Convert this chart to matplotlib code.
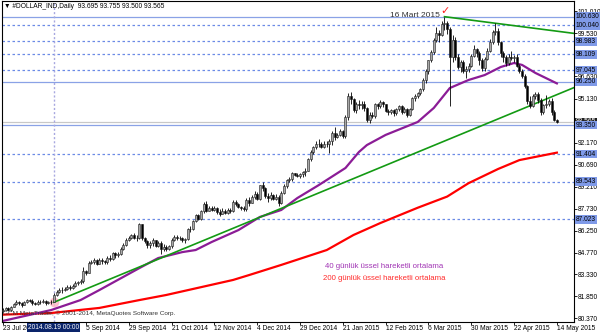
import numpy as np
import pandas as pd
import matplotlib
matplotlib.use("Agg")
import matplotlib.pyplot as plt
import matplotlib.transforms as mtrans

# ---------DATA---------
first_day = "2014-07-23"
last_day = "2015-05-14"
no_bar_days = ["2014-09-01", "2014-12-25", "2015-01-01", "2015-04-03"]

first_open = 80.85
closes = [
    80.95, 81.05, 80.90,                          # Jul 23-25
    81.15, 81.35, 81.45, 81.40, 81.30,            # Jul 28 - Aug 1
    81.45, 81.60, 81.55, 81.40, 81.35,            # Aug 4-8
    81.50, 81.45, 81.55, 81.40, 81.45,            # Aug 11-15
    81.50, 81.95, 82.15, 82.25, 82.30,            # Aug 18-22
    82.35, 82.50, 82.40, 82.55, 82.75,            # Aug 25-29
    82.80, 82.85, 83.55, 83.45,                   # Sep 2-5
    84.10, 84.15, 84.30, 84.05, 84.30,            # Sep 8-12
    84.20, 84.15, 84.45, 84.35, 84.75,            # Sep 15-19
    84.60, 84.70, 85.05, 85.30, 85.65,            # Sep 22-26
    85.75, 85.95, 85.80, 85.75, 86.70,            # Sep 29 - Oct 3
    85.75, 85.55, 85.30, 85.40, 85.60,            # Oct 6-10
    85.25, 85.45, 85.00, 85.15, 85.05,            # Oct 13-17
    85.20, 85.65, 85.85, 85.75, 85.80,            # Oct 20-24
    85.60, 85.70, 86.35, 86.40, 86.90,            # Oct 27-31
    87.30, 87.05, 87.55, 88.05, 87.60,            # Nov 3-7
    87.80, 87.65, 87.75, 87.50, 87.40,            # Nov 10-14
    87.60, 87.45, 87.65, 87.55, 88.20,            # Nov 17-21
    88.05, 87.85, 87.80, 87.70, 88.35,            # Nov 24-28
    88.15, 88.55, 88.75, 88.40, 89.30,            # Dec 1-5
    89.10, 88.60, 88.45, 88.65, 88.40,            # Dec 8-12
    88.55, 88.10, 88.80, 89.25, 89.65,            # Dec 15-19
    89.70, 90.10, 90.00, 89.95,                   # Dec 22-26
    90.05, 90.20, 90.30, 91.05,                   # Dec 29 - Jan 2
    91.55, 91.85, 92.10, 92.05, 91.90,            # Jan 5-9
    92.10, 92.05, 92.30, 92.85, 92.55,            # Jan 12-16
    92.70, 92.95, 92.60, 93.90, 95.30,            # Jan 19-23
    95.10, 94.35, 94.80, 94.70, 94.80,            # Jan 26-30
    94.50, 93.70, 94.05, 93.95, 94.75,            # Feb 2-6
    94.60, 94.90, 94.75, 94.30, 94.20,            # Feb 9-13
    94.35, 94.15, 94.40, 94.60, 94.20,            # Feb 16-20
    94.45, 94.05, 94.40, 95.15, 95.30,            # Feb 23-27
    95.50, 95.75, 96.40, 96.95, 97.70,            # Mar 2-6
    98.25, 99.05, 99.55, 99.40, 100.15,           # Mar 9-13
    100.20, 99.80, 97.95, 99.05, 97.95,           # Mar 16-20
    97.25, 97.60, 96.95, 97.10, 97.30,            # Mar 23-27
    98.00, 98.45, 98.20, 97.70,                   # Mar 30 - Apr 2
    97.20, 97.80, 98.35, 98.95, 99.60,            # Apr 6-10
    99.70, 98.90, 98.20, 97.90, 97.50,            # Apr 13-17
    97.95, 97.85, 97.95, 97.35, 96.95,            # Apr 20-24
    96.65, 96.00, 94.95, 94.60, 95.30,            # Apr 27 - May 1
    95.45, 95.05, 94.25, 94.70, 94.75,            # May 4-8
    95.00, 94.20, 93.695, 93.565,                 # May 11-14
]
highs = [
    81.05, 81.15, 81.10,
    81.20, 81.40, 81.60, 81.55, 81.50,
    81.55, 81.70, 81.70, 81.65, 81.50,
    81.60, 81.60, 81.65, 81.60, 81.55,
    81.60, 82.05, 82.30, 82.40, 82.45,
    82.45, 82.60, 82.60, 82.65, 82.85,
    82.90, 83.00, 83.80, 83.65,
    84.20, 84.30, 84.45, 84.35, 84.40,
    84.40, 84.30, 84.55, 84.60, 84.85,
    84.80, 84.80, 85.15, 85.40, 85.75,
    85.90, 86.05, 86.10, 85.95, 86.80,
    86.25, 85.85, 85.65, 85.55, 85.75,
    85.65, 85.55, 85.55, 85.35, 85.30,
    85.30, 85.75, 85.95, 85.95, 85.90,
    85.85, 85.80, 86.45, 86.60, 87.00,
    87.40, 87.40, 87.65, 88.20, 88.25,
    87.90, 87.95, 87.90, 87.85, 87.70,
    87.75, 87.70, 87.80, 87.80, 88.35,
    88.30, 88.15, 87.95, 87.90, 88.45,
    88.50, 88.65, 88.90, 88.85, 89.35,
    89.55, 89.20, 88.80, 88.85, 88.75,
    88.70, 88.65, 88.95, 89.40, 89.75,
    89.85, 90.20, 90.15, 90.10,
    90.15, 90.30, 90.45, 91.15,
    91.65, 91.95, 92.25, 92.40, 92.20,
    92.25, 92.30, 92.40, 92.95, 93.20,
    92.85, 93.10, 93.05, 94.00, 95.50,
    95.60, 95.20, 94.90, 95.05, 95.00,
    95.00, 94.55, 94.20, 94.25, 94.85,
    94.85, 95.05, 95.00, 94.80, 94.45,
    94.45, 94.45, 94.50, 94.70, 94.70,
    94.55, 94.50, 94.50, 95.25, 95.45,
    95.60, 95.85, 96.50, 97.10, 97.75,
    98.40, 99.20, 99.95, 99.75, 100.35,
    100.63, 100.35, 99.95, 99.40, 99.25,
    98.10, 97.70, 97.70, 97.30, 97.55,
    98.15, 98.70, 98.55, 98.30,
    97.85, 97.95, 98.50, 99.10, 99.75,
    100.20, 99.85, 99.00, 98.35, 98.05,
    98.10, 98.30, 98.05, 98.10, 97.45,
    97.10, 96.75, 96.05, 95.30, 95.45,
    95.55, 95.55, 95.15, 94.80, 95.35,
    95.10, 95.20, 94.35, 93.755,
]
lows = [
    80.80, 80.90, 80.85,
    80.85, 81.10, 81.30, 81.30, 81.15,
    81.25, 81.40, 81.45, 81.30, 81.25,
    81.30, 81.35, 81.40, 81.30, 81.35,
    81.35, 81.45, 81.85, 82.05, 82.10,
    82.20, 82.25, 82.30, 82.35, 82.45,
    82.60, 82.65, 82.75, 83.30,
    83.40, 84.00, 84.05, 83.95, 84.00,
    84.05, 84.00, 84.05, 84.25, 84.30,
    84.45, 84.50, 84.65, 84.95, 85.20,
    85.55, 85.70, 85.70, 85.55, 85.70,
    85.60, 85.40, 85.10, 85.10, 85.25,
    85.15, 85.15, 84.70, 84.90, 84.90,
    84.95, 85.10, 85.55, 85.60, 85.60,
    85.50, 85.45, 85.60, 86.15, 86.30,
    86.85, 86.95, 87.00, 87.45, 87.50,
    87.55, 87.55, 87.60, 87.40, 87.25,
    87.35, 87.35, 87.40, 87.45, 87.50,
    87.95, 87.75, 87.65, 87.55, 87.60,
    87.90, 88.10, 88.40, 88.30, 88.35,
    88.95, 88.45, 88.20, 88.30, 88.30,
    88.30, 87.95, 88.05, 88.70, 89.15,
    89.50, 89.60, 89.90, 89.85,
    89.80, 89.85, 89.95, 90.25,
    90.95, 91.40, 91.75, 91.85, 91.80,
    91.80, 91.85, 91.50, 92.00, 92.35,
    92.45, 92.60, 92.45, 92.50, 93.70,
    94.80, 94.20, 94.15, 94.45, 94.40,
    94.30, 93.55, 93.50, 93.80, 93.85,
    94.45, 94.50, 94.55, 94.20, 94.05,
    94.10, 93.95, 94.05, 94.30, 94.10,
    94.15, 93.90, 93.95, 94.35, 94.95,
    95.20, 95.35, 95.65, 96.20, 96.80,
    97.60, 98.15, 98.90, 98.95, 99.30,
    99.75, 99.50, 94.60, 97.60, 97.75,
    97.10, 96.90, 96.85, 96.50, 96.90,
    97.25, 97.90, 97.90, 97.40,
    96.95, 97.00, 97.70, 98.25, 98.80,
    99.40, 98.75, 97.95, 97.60, 97.30,
    97.40, 97.70, 97.60, 97.25, 96.85,
    96.50, 95.85, 94.80, 94.50, 94.55,
    95.10, 94.85, 94.05, 94.10, 94.50,
    94.60, 94.05, 93.60, 93.50,
]

# moving averages (bar number, price)
ema40_bar = [0, 18, 29, 36, 51, 58, 67, 72, 78, 88, 96, 104, 110, 118, 128,
             133, 136, 143, 155, 161, 167, 174, 180, 186, 191, 194, 199, 207]
ema40_val = [80.20, 80.93, 81.60, 82.27, 83.75, 84.42, 84.82, 84.96, 85.50,
             86.30, 87.18, 87.65, 88.45, 89.32, 90.47, 91.54, 92.01, 92.69,
             93.56, 94.50, 95.84, 96.38, 96.71, 97.25, 97.52, 97.39, 96.85, 96.15]
ema200_bar = [0, 18, 36, 51, 61, 86, 92, 104, 121, 131, 141, 155, 166, 174,
              185, 193, 207]
ema200_val = [80.62, 80.73, 81.07, 81.60, 81.94, 82.95, 83.28, 83.96, 84.96,
              85.97, 86.77, 87.80, 88.55, 89.45, 90.40, 91.00, 91.50]

# trend lines (date, price) - drawn as rays to the right
support_pts = [("2014-08-19", 81.45), ("2015-03-05", 91.76)]
resist_pts = [("2015-03-16", 100.63), ("2015-04-13", 100.19)]

solid_levels = [100.630, 96.250, 93.350]
dotted_levels = [100.040, 98.983, 98.109, 97.045, 91.404, 89.543, 87.023]
bid_price = 93.565

price_ticks = [101.010, 99.530, 98.080, 96.630, 95.130, 93.650, 92.170, 90.690,
               89.210, 87.730, 86.250, 84.770, 83.330, 81.850, 80.370]
date_ticks = ["2014-07-23", "2014-09-05", "2014-09-29", "2014-10-21", "2014-11-12",
              "2014-12-04", "2014-12-29", "2015-01-21", "2015-02-12", "2015-03-06",
              "2015-03-30", "2015-04-22", "2015-05-14"]
cross_day = "2014-08-19"

# ---------PREP---------
days = pd.bdate_range(first_day, last_day)
days = days[~days.isin(pd.to_datetime(no_bar_days))]
pos = {d: i for i, d in enumerate(days)}
idx = np.arange(len(days))

c = np.array(closes)
o = np.array([first_open] + closes[:-1])
h = np.maximum(np.array(highs), np.maximum(o, c))
l = np.minimum(np.array(lows), np.minimum(o, c))
assert len(c) == len(days)

plt.rcParams['font.family'] = ['Liberation Sans', 'DejaVu Sans']
FS = 4.8

fig = plt.figure(figsize=(6, 3.33), dpi=100)
ax = fig.add_axes([2 / 600, 11 / 333, 572 / 600, 321 / 333])
XR = 213.4
ax.set_xlim(-0.37, XR)
ax.set_ylim(80.126, 101.684)

# levels
for lv in solid_levels:
    ax.axhline(lv, color='#8aa2e6', lw=0.9, zorder=1)
for lv in dotted_levels:
    ax.axhline(lv, color='#6b8ae6', lw=0.9, ls=(0, (2, 2)), zorder=1)
ax.axhline(bid_price, color='#c8c8c8', lw=0.9, zorder=1)
cx = pos[pd.Timestamp(cross_day)]
ax.axvline(cx, color='#a8a8e0', lw=1.0, ls=(0, (1.5, 1.5)), zorder=1)

# moving averages
ax.plot(ema200_bar, ema200_val, color='#ff0000', lw=1.6, zorder=2,
        solid_joinstyle='round')
ax.plot(ema40_bar, ema40_val, color='#8b1c96', lw=1.6, zorder=2,
        solid_joinstyle='round')


def ray(pts, color):
    x0, y0 = pos[pd.Timestamp(pts[0][0])], pts[0][1]
    x1, y1 = pos[pd.Timestamp(pts[1][0])], pts[1][1]
    slope = (y1 - y0) / (x1 - x0)
    ax.plot([x0, XR], [y0, y0 + slope * (XR - x0)], color=color, lw=1.2, zorder=2)


ray(support_pts, '#139a13')
ray(resist_pts, '#139a13')

# crosshair point
ax.plot(cx, l[cx], 'o', ms=6, color='#ffb6c8', alpha=0.8, zorder=1.5)

# candles
up = c >= o
ax.vlines(idx, l, h, color='black', lw=0.6, zorder=3)
body = np.maximum(np.abs(c - o), 0.03)
ax.bar(idx, body, bottom=np.minimum(o, c), width=0.75,
       color=np.where(up, '#a8a8a8', '#000000'), edgecolor='#1a1a1a',
       linewidth=0.4, zorder=4)

# axes styling
ax.yaxis.tick_right()
ax.set_yticks(price_ticks)
ax.set_yticklabels([f"{v:.3f}" for v in price_ticks])
ax.set_xticks([pos[pd.Timestamp(d)] for d in date_ticks])
ax.set_xticklabels([pd.Timestamp(d).strftime('%-d %b %Y') for d in date_ticks])
for lab in ax.get_xticklabels():
    lab.set_ha('left')
ax.tick_params(axis='both', labelsize=FS, length=1.8, width=0.6, pad=0.6, colors='black')
for sp in ax.spines.values():
    sp.set_linewidth(0.8)
    sp.set_color('black')

# right-hand boxes for levels
ytr = mtrans.blended_transform_factory(ax.transAxes, ax.transData)
ax.text(1.003, bid_price, f"{bid_price:.3f}", transform=ytr, fontsize=FS, va='center',
        ha='left', color='white', zorder=6, clip_on=False,
        bbox=dict(boxstyle='square,pad=0.12', fc='#202020', ec='none'))
for lv in solid_levels + dotted_levels:
    ax.text(1.003, lv, f"{lv:.3f}", transform=ytr, fontsize=FS, va='center', ha='left',
            color='black', zorder=7, clip_on=False,
            bbox=dict(boxstyle='square,pad=0.12', fc='#7f9ae8', ec='none'))

# crosshair date box
xtr = mtrans.blended_transform_factory(ax.transData, ax.transAxes)
ax.text(cx, -0.006, pd.Timestamp(cross_day).strftime('%Y.%m.%d 00:00'), transform=xtr,
        fontsize=FS, va='top', ha='center', color='white', zorder=6, clip_on=False,
        bbox=dict(boxstyle='square,pad=0.15', fc='#0a246a', ec='none'))

# texts
ax.text(0.004, 0.993, "\u25BC #DOLLAR_IND,Daily  93.695 93.755 93.500 93.565",
        transform=ax.transAxes, fontsize=4.8, va='top', ha='left', color='black')
ax.text(0.002, 0.028, "GCM MetaTrader, \u00a9 2001-2014, MetaQuotes Software Corp.",
        transform=ax.transAxes, fontsize=4.6, va='center', ha='left', color='#333333')
ax.text(163.3, 100.74, "16 Mart 2015", fontsize=6, ha='right', va='center', color='#333333')
ax.text(165.2, 101.0, "\u2713", fontsize=8, ha='center', va='center', color='#ff2020',
        family='DejaVu Sans')
ax.text(120.3, 83.82, "40 günlük üssel hareketli ortalama", fontsize=5.6,
        ha='left', va='center', color='#a033b4')
ax.text(119.6, 83.08, "200 günlük üssel hareketli ortalama", fontsize=5.6,
        ha='left', va='center', color='#ff2a2a')

fig.savefig("out.png", dpi=100, facecolor='white')
